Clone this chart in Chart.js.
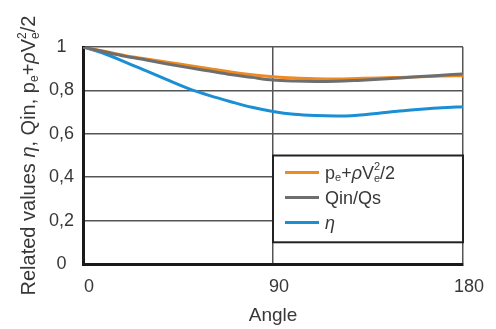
<!DOCTYPE html>
<html>
<head>
<meta charset="utf-8">
<script src="https://cdn.jsdelivr.net/npm/chart.js@4.4.0/dist/chart.umd.min.js"></script>
<style>
  html, body { margin: 0; padding: 0; background: #fff; }
  #wrap { width: 496px; height: 329px; }
</style>
</head>
<body>
<div id="wrap"><canvas id="myChart" width="496" height="329"></canvas></div>
<script>
// Datos
const angles = [0, 10, 20, 30, 40, 50, 60, 70, 80, 90, 100, 110, 120, 130, 140, 150, 160, 170, 180];
const pressure = [1, 0.98, 0.96, 0.945, 0.93, 0.915, 0.9, 0.885, 0.872, 0.863, 0.857, 0.854, 0.853, 0.855, 0.857, 0.86, 0.863, 0.866, 0.868];
const flowRatio = [1, 0.978, 0.957, 0.94, 0.922, 0.905, 0.889, 0.873, 0.86, 0.848, 0.843, 0.841, 0.842, 0.846, 0.851, 0.857, 0.864, 0.87, 0.876];
const efficiency = [1, 0.97, 0.93, 0.89, 0.848, 0.808, 0.776, 0.748, 0.722, 0.703, 0.69, 0.684, 0.682, 0.686, 0.695, 0.705, 0.713, 0.72, 0.725];
const seriesColors = ["#ee8a22", "#6e6e6e", "#1a8fd4"];
const xTickStep = 90;
const yTickStep = 0.1;

const FONT = '"Liberation Sans", Arial, sans-serif';
const TEXT = "#383838";

// Texto con subindices / superindices
function seg(t, o) { return Object.assign({ t: t, k: 1, dy: 0, it: false }, o || {}); }
const sub = (t) => seg(t, { k: 0.6, dy: 0.15 });
const stack = (lo, hi) => seg(lo, { k: 0.6, dy: 0.2, over: hi });

const legendParts = [
  [seg("p"), sub("e"), seg("+"), seg("ρ", { it: true }), seg("V"), stack("e", "2"), seg("/2")],
  [seg("Qin/Qs")],
  [seg("η", { it: true })]
];
const yTitleParts = [
  seg("Related values "), seg("η", { it: true }), seg(", Qin, p"), sub("e"),
  seg("+"), seg("ρ", { it: true }), seg("V"), stack("e", "2"), seg("/2")
];

function setFont(ctx, p, size) {
  ctx.font = (p.it ? "italic " : "") + Math.round(size * p.k) + "px " + FONT;
}
function richWidth(ctx, parts, size) {
  let w = 0;
  parts.forEach((p) => {
    setFont(ctx, p, size);
    let pw = ctx.measureText(p.t).width;
    if (p.over) pw = Math.max(pw, ctx.measureText(p.over).width);
    w += pw;
  });
  return w;
}
function drawRich(ctx, parts, x, y, size) {
  ctx.textAlign = "left";
  ctx.textBaseline = "alphabetic";
  parts.forEach((p) => {
    setFont(ctx, p, size);
    ctx.fillText(p.t, x, y + p.dy * size);
    let pw = ctx.measureText(p.t).width;
    if (p.over) {
      ctx.fillText(p.over, x, y - 0.45 * size);
      pw = Math.max(pw, ctx.measureText(p.over).width);
    }
    x += pw;
  });
}

// Leyenda dentro del area (90..180, 0.1..0.5)
const legendBox = {
  id: "legendBox",
  afterDatasetsDraw(chart) {
    const { ctx, scales: { x, y } } = chart;
    const l = x.getPixelForValue(90), r = x.getPixelForValue(180);
    const t = y.getPixelForValue(0.5), b = y.getPixelForValue(0.1);
    ctx.save();
    ctx.fillStyle = "#fff";
    ctx.fillRect(l, t, r - l, b - t);
    ctx.strokeStyle = "#222";
    ctx.lineWidth = 2;
    ctx.strokeRect(l, t, r - l, b - t);
    chart.data.datasets.forEach((ds, i) => {
      const cy = t + 17 + i * 25;
      ctx.strokeStyle = ds.borderColor;
      ctx.lineWidth = 3;
      ctx.beginPath();
      ctx.moveTo(l + 12, cy);
      ctx.lineTo(l + 46, cy);
      ctx.stroke();
      ctx.fillStyle = TEXT;
      drawRich(ctx, legendParts[i], l + 52, cy + 6, 18);
    });
    ctx.restore();
  }
};

// Titulo del eje Y (rotado)
const yTitle = {
  id: "yTitle",
  afterDraw(chart) {
    const { ctx, chartArea } = chart;
    ctx.save();
    ctx.translate(28, (chartArea.top + chartArea.bottom) / 2);
    ctx.rotate(-Math.PI / 2);
    ctx.fillStyle = TEXT;
    const w = richWidth(ctx, yTitleParts, 20);
    drawRich(ctx, yTitleParts, -w / 2, 7, 20);
    ctx.restore();
  }
};

const series = [pressure, flowRatio, efficiency];
const datasets = series.map((vals, i) => ({
  label: ["pe+ρVe²/2", "Qin/Qs", "η"][i],
  data: angles.map((a, j) => ({ x: a, y: vals[j] })),
  borderColor: seriesColors[i],
  borderWidth: 3,
  pointRadius: 0,
  cubicInterpolationMode: "monotone",
  fill: false,
  order: i === 1 ? -1 : i
}));

const ctx = document.getElementById("myChart").getContext("2d");
new Chart(ctx, {
  type: "line",
  data: { datasets: datasets },
  plugins: [legendBox, yTitle],
  options: {
    responsive: false,
    animation: false,
    layout: { padding: { left: 0, right: 33, top: 47, bottom: 0 } },
    plugins: { legend: { display: false }, tooltip: { enabled: false } },
    scales: {
      x: {
        type: "linear",
        min: 0,
        max: 180,
        afterFit: (s) => { s.height = 65; },
        ticks: {
          stepSize: xTickStep,
          color: TEXT,
          font: { family: FONT, size: 18 },
          padding: 12,
          labelOffset: 6,
          maxRotation: 0
        },
        grid: { color: "#555", lineWidth: 1.5, drawTicks: false },
        border: { color: "#1a1a1a", width: 3 },
        title: {
          display: true,
          text: "Angle",
          color: TEXT,
          font: { family: FONT, size: 19 },
          padding: { top: 0, bottom: 2 }
        }
      },
      y: {
        min: 0,
        max: 1,
        afterFit: (s) => { s.width = 83; },
        ticks: {
          stepSize: yTickStep,
          color: TEXT,
          font: { family: FONT, size: 18 },
          padding: 9,
          crossAlign: "center",
          callback: (v) => {
            const n = Math.round(v * 10);
            if (n % 2 !== 0) return "";
            if (n === 0) return "0";
            if (n === 10) return "1";
            return (n / 10).toFixed(1).replace(".", ",");
          }
        },
        grid: { color: "#555", lineWidth: 1.5, drawTicks: false },
        border: { color: "#1a1a1a", width: 3 }
      }
    }
  }
});
</script>
</body>
</html>
